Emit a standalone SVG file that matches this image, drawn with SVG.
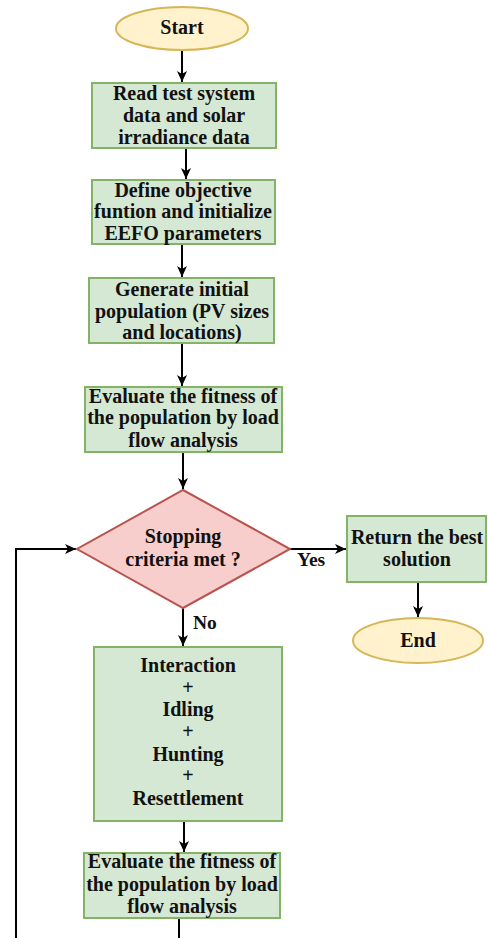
<svg xmlns="http://www.w3.org/2000/svg" width="488" height="938" viewBox="0 0 488 938">
<defs>
<style>
.box{fill:#d5e8d4;stroke:#82b366;stroke-width:2}
.dec{fill:#f8cecc;stroke:#b85450;stroke-width:2}
.term{fill:#fff2cc;stroke:#d6b656;stroke-width:2}
.t{font-family:"Liberation Serif","Times New Roman",serif;font-weight:bold;font-size:20px;fill:#111;text-anchor:middle}
.lbl{font-family:"Liberation Serif","Times New Roman",serif;font-weight:bold;font-size:19.5px;fill:#111}
.c{fill:none;stroke:#000;stroke-width:2}
</style>
<marker id="ah" markerUnits="userSpaceOnUse" markerWidth="12" markerHeight="12" refX="11" refY="6" orient="auto">
<path d="M0,1 L11,6 L0,11 L3,6 Z" fill="#000"/>
</marker>
</defs>
<rect width="488" height="938" fill="#fff"/>

<g id="connectors">
<path class="c" d="M182,50 V82" marker-end="url(#ah)"/>
<path class="c" d="M186,148 V179" marker-end="url(#ah)"/>
<path class="c" d="M182,244 V277" marker-end="url(#ah)"/>
<path class="c" d="M182,344 V386" marker-end="url(#ah)"/>
<path class="c" d="M183,452 V489" marker-end="url(#ah)"/>
<path class="c" d="M183,608 V646" marker-end="url(#ah)"/>
<path class="c" d="M290,549 H346" marker-end="url(#ah)"/>
<path class="c" d="M418,582 V617" marker-end="url(#ah)"/>
<path class="c" d="M184,821 V852" marker-end="url(#ah)"/>
<path class="c" d="M179,918 V948 H16 V549 H76" marker-end="url(#ah)"/>
<text class="lbl" x="297" y="566">Yes</text>
<text class="lbl" x="193" y="629">No</text>
</g>

<g id="start">
<ellipse class="term" cx="182" cy="28.5" rx="66" ry="21.5"/>
<text class="t" x="182" y="34">Start</text>
</g>

<g id="read">
<rect class="box" x="92" y="83" width="184" height="65"/>
<text class="t" x="184" y="100">Read test system</text>
<text class="t" x="184" y="122">data and solar</text>
<text class="t" x="184" y="144">irradiance data</text>
</g>

<g id="define">
<rect class="box" x="92" y="180" width="183" height="64"/>
<text class="t" x="183" y="197">Define objective</text>
<text class="t" x="183" y="218">funtion and initialize</text>
<text class="t" x="183" y="240">EEFO parameters</text>
</g>

<g id="generate">
<rect class="box" x="89" y="278" width="185" height="65"/>
<text class="t" x="182" y="296">Generate initial</text>
<text class="t" x="182" y="318">population (PV sizes</text>
<text class="t" x="182" y="339">and locations)</text>
</g>

<g id="evaluate1">
<rect class="box" x="85" y="387" width="197" height="65"/>
<text class="t" x="183" y="403">Evaluate the fitness of</text>
<text class="t" x="183" y="424">the population by load</text>
<text class="t" x="183" y="447">flow analysis</text>
</g>

<g id="stopping">
<polygon class="dec" points="183,490 290,549 183,608 77,549"/>
<text class="t" x="183" y="543">Stopping</text>
<text class="t" x="183" y="566">criteria met ?</text>
</g>

<g id="return">
<rect class="box" x="347" y="516" width="139" height="66"/>
<text class="t" x="417" y="544">Return the best</text>
<text class="t" x="417" y="566">solution</text>
</g>

<g id="end">
<ellipse class="term" cx="418" cy="640.5" rx="65" ry="22.5"/>
<text class="t" x="418" y="647">End</text>
</g>

<g id="update">
<rect class="box" x="94" y="647" width="188" height="174"/>
<text class="t" x="188" y="672">Interaction</text>
<text class="t" x="188" y="694" font-weight="normal">+</text>
<text class="t" x="188" y="716">Idling</text>
<text class="t" x="188" y="738" font-weight="normal">+</text>
<text class="t" x="188" y="761">Hunting</text>
<text class="t" x="188" y="782" font-weight="normal">+</text>
<text class="t" x="188" y="805">Resettlement</text>
</g>

<g id="evaluate2">
<rect class="box" x="84" y="853" width="196" height="65"/>
<text class="t" x="182" y="868">Evaluate the fitness of</text>
<text class="t" x="182" y="891">the population by load</text>
<text class="t" x="182" y="913">flow analysis</text>
</g>
</svg>
